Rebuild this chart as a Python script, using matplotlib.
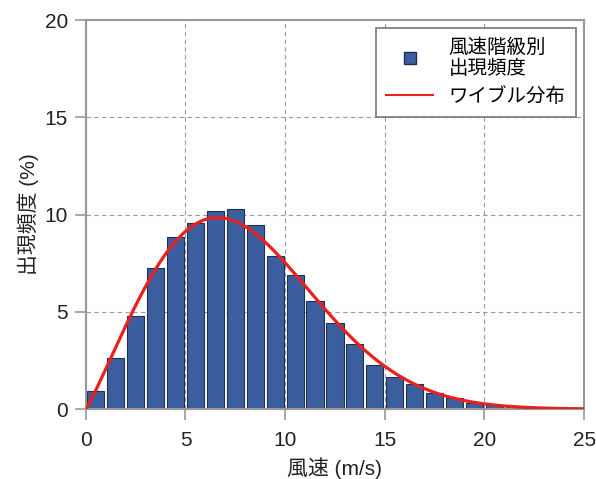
import numpy as np
import matplotlib.pyplot as plt
from matplotlib.lines import Line2D

plt.rcParams['font.family'] = ['Liberation Sans', 'Noto Sans CJK JP', 'DejaVu Sans']

# wind speed class (m/s), lower edges
speed_bins = np.arange(0, 25)
freq = [0.93, 2.64, 4.8, 7.23, 8.83, 9.58, 10.2, 10.28, 9.46, 7.87,
        6.89, 5.55, 4.44, 3.35, 2.25, 1.66, 1.3, 0.85, 0.55, 0.32,
        0.2, 0.12, 0.07, 0.04, 0.02]

# fitted weibull parameters (shape k, scale c)
weibull_k = 2.1
weibull_c = 9.0

def weibull_pdf(v, k, c):
    return (k / c) * (v / c) ** (k - 1) * np.exp(-(v / c) ** k)

fig = plt.figure(figsize=(5.96, 4.79), dpi=100)
ax = fig.add_axes([0.144, 0.146, 0.836, 0.812])

ax.grid(True, linestyle=(0, (4, 3)), color='#9a9a9a', linewidth=0.8)
ax.set_axisbelow(True)

ax.bar(speed_bins + 0.5, freq, width=0.86, color='#3b5f9e',
       edgecolor='#1f2f4f', linewidth=0.8, zorder=2)

v = np.linspace(0, 25, 400)
ax.plot(v, weibull_pdf(v, weibull_k, weibull_c) * 100, color='#e8201e',
        linewidth=2.3, zorder=3)

ax.set_xlim(0, 25)
ax.set_ylim(0, 20)
ax.set_xticks([0, 5, 10, 15, 20, 25])
ax.set_yticks([0, 5, 10, 15, 20])
for s in ax.spines.values():
    s.set_color('#999999')
    s.set_linewidth(1.5)
ax.tick_params(direction='out', length=8, width=1.2, color='#999999',
               labelsize=15, labelcolor='#222222')
ax.tick_params(axis='x', pad=8)
ax.tick_params(axis='y', pad=5)

ax.set_xlabel('風速 (m/s)', fontsize=15, color='#222222', labelpad=5)
ax.set_ylabel('出現頻度 (%)', fontsize=15, color='#222222', labelpad=4)

handles = [Line2D([], [], marker='s', linestyle='none', markersize=8,
                  markerfacecolor='#3b5f9e', markeredgecolor='#1f2f4f'),
           Line2D([], [], color='#e8201e', linewidth=1.5)]
leg = ax.legend(handles, ['風速階級別\n出現頻度', 'ワイブル分布'],
                loc='upper right', fontsize=14, fancybox=False,
                edgecolor='#777777', framealpha=1, handlelength=2.4,
                borderaxespad=0.4, labelspacing=0.45, borderpad=0.55)
leg.get_frame().set_linewidth(1.2)

fig.savefig('out.png', dpi=100)
